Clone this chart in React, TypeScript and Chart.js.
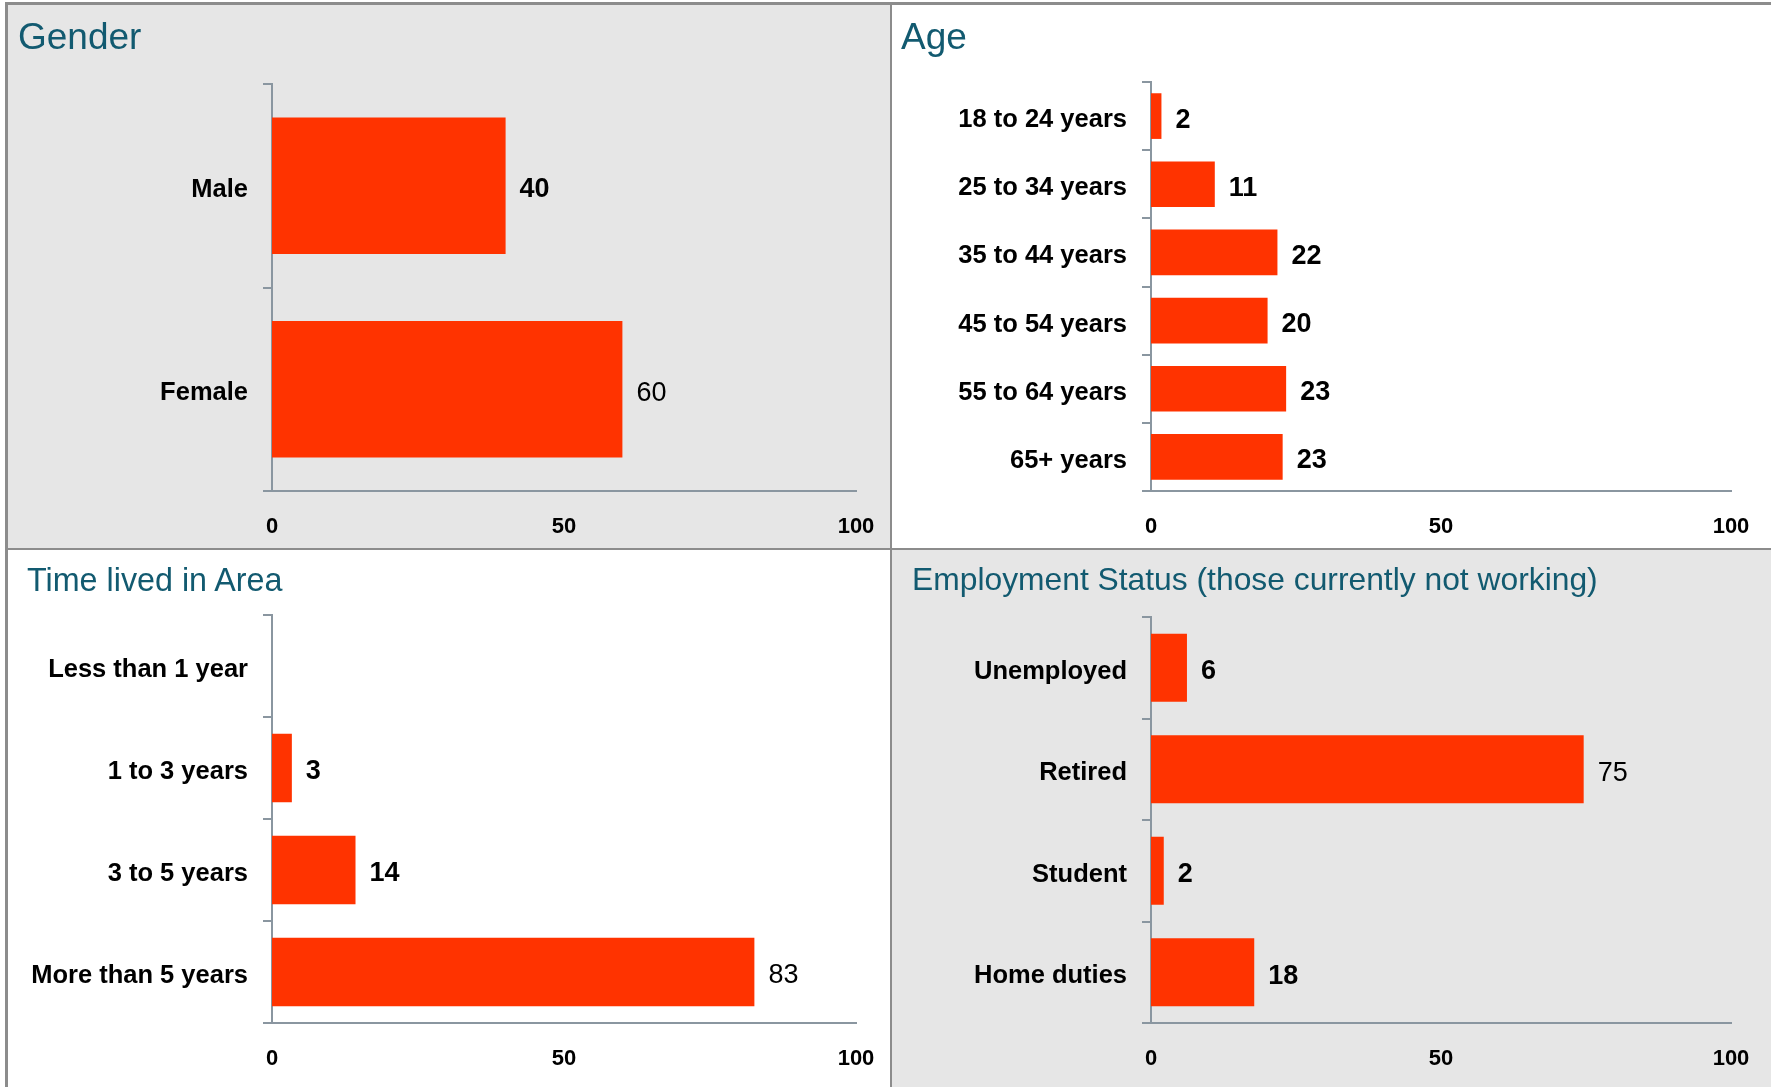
import React, { useEffect, useRef } from 'react';
import { Chart, registerables } from 'chart.js';

Chart.register(...registerables);

// ---- data ----
const genderCategories = ['Male', 'Female'];
const genderValues = [40, 60];

const ageCategories = ['18 to 24 years', '25 to 34 years', '35 to 44 years', '45 to 54 years', '55 to 64 years', '65+ years'];
const ageValues = [1.8, 11, 21.8, 20.1, 23.3, 22.7];

const timeCategories = ['Less than 1 year', '1 to 3 years', '3 to 5 years', 'More than 5 years'];
const timeValues = [0, 3.4, 14.3, 82.6];

const employmentCategories = ['Unemployed', 'Retired', 'Student', 'Home duties'];
const employmentValues = [6.2, 74.6, 2.2, 17.8];

const xTickValues = [0, 50, 100];

// ---- styles ----
const FONT = '"Liberation Sans", Arial, Helvetica, sans-serif';
const BAR = '#FF3300';
const AXIS = '#8a96a0';
const TITLE = '#125a70';
const GRAY = '#e6e6e6';
const LINE = '#8c8c8c';

type Area = { left: number; top: number; right: number; bottom: number };
type PanelSpec = {
  title: string;
  titleSize: number;
  titleLeft: number;
  titleTop: number;
  left: number;
  top: number;
  width: number;
  height: number;
  bg: string;
  area: Area;
  categories: string[];
  values: number[];
  light: number[];
};

const PANELS: PanelSpec[] = [
  {
    title: 'Gender', titleSize: 37, titleLeft: 18, titleTop: 18,
    left: 8, top: 5, width: 882, height: 543, bg: GRAY,
    area: { left: 272, top: 84, right: 856, bottom: 491 },
    categories: genderCategories, values: genderValues, light: [1],
  },
  {
    title: 'Age', titleSize: 37, titleLeft: 901, titleTop: 18,
    left: 892, top: 5, width: 879, height: 543, bg: '#ffffff',
    area: { left: 1151, top: 82, right: 1731, bottom: 491 },
    categories: ageCategories, values: ageValues, light: [],
  },
  {
    title: 'Time lived in Area', titleSize: 32.3, titleLeft: 27, titleTop: 564,
    left: 8, top: 550, width: 882, height: 537, bg: '#ffffff',
    area: { left: 272, top: 615, right: 856, bottom: 1023 },
    categories: timeCategories, values: timeValues, light: [3],
  },
  {
    title: 'Employment Status (those currently not working)', titleSize: 31.8, titleLeft: 912, titleTop: 564,
    left: 892, top: 550, width: 879, height: 537, bg: GRAY,
    area: { left: 1151, top: 617, right: 1731, bottom: 1023 },
    categories: employmentCategories, values: employmentValues, light: [1],
  },
];

function BarPanel({ spec }: { spec: PanelSpec }) {
  const ref = useRef<HTMLCanvasElement>(null);

  useEffect(() => {
    const a = spec.area;
    const padTop = a.top - spec.top;
    const yWidth = a.left - spec.left;
    const padRight = spec.left + spec.width - a.right;
    const xHeight = spec.top + spec.height - a.bottom;

    const valueLabels = {
      id: 'valueLabels',
      afterDatasetsDraw(chart: any) {
        const ctx = chart.ctx;
        const meta = chart.getDatasetMeta(0);
        ctx.save();
        ctx.fillStyle = '#000';
        ctx.textAlign = 'left';
        ctx.textBaseline = 'middle';
        meta.data.forEach((el: any, i: number) => {
          const v = spec.values[i];
          if (!v) return;
          ctx.font = `${spec.light.includes(i) ? 'normal' : 'bold'} 27px ${FONT}`;
          ctx.fillText(String(Math.round(v)), el.x + 14, el.y + 4);
        });
        ctx.restore();
      },
    };

    const chart = new Chart(ref.current as HTMLCanvasElement, {
      type: 'bar',
      data: {
        labels: spec.categories,
        datasets: [
          {
            data: spec.values,
            backgroundColor: BAR,
            borderWidth: 0,
            barPercentage: 0.67,
            categoryPercentage: 1,
          },
        ],
      },
      options: {
        indexAxis: 'y',
        animation: false,
        responsive: false,
        maintainAspectRatio: false,
        layout: { padding: { left: 0, top: padTop, right: padRight, bottom: 0 } },
        plugins: {
          legend: { display: false },
          tooltip: { enabled: false },
          title: { display: false },
        },
        scales: {
          x: {
            type: 'linear',
            min: 0,
            max: 100,
            afterBuildTicks: (s: any) => {
              s.ticks = xTickValues.map((v) => ({ value: v }));
            },
            afterFit: (s: any) => {
              s.height = xHeight;
              s.paddingLeft = 0;
              s.paddingRight = 0;
            },
            grid: { display: false, drawTicks: false },
            border: { display: true, color: AXIS, width: 2 },
            ticks: {
              padding: 23,
              color: '#000',
              maxRotation: 0,
              font: { family: FONT, size: 22, weight: 'bold' },
            },
          },
          y: {
            afterFit: (s: any) => {
              s.width = yWidth;
              s.paddingTop = 0;
              s.paddingBottom = 0;
            },
            grid: {
              offset: true,
              drawOnChartArea: false,
              drawTicks: true,
              tickLength: 9,
              color: AXIS,
              lineWidth: 2,
            },
            border: { display: true, color: AXIS, width: 2 },
            ticks: {
              autoSkip: false,
              padding: 15,
              labelOffset: 4,
              color: '#000',
              font: { family: FONT, size: 25.5, weight: 'bold' },
            },
          },
        },
      } as any,
      plugins: [valueLabels],
    });
    return () => chart.destroy();
  }, [spec]);

  return (
    <div
      style={{
        position: 'absolute',
        left: spec.left,
        top: spec.top,
        width: spec.width,
        height: spec.height,
        background: spec.bg,
      }}
    >
      <canvas
        ref={ref}
        width={spec.width}
        height={spec.height}
        style={{ position: 'absolute', left: 0, top: 0, width: spec.width, height: spec.height }}
      />
      <div
        style={{
          position: 'absolute',
          left: spec.titleLeft - spec.left,
          top: spec.titleTop - spec.top,
          fontFamily: FONT,
          fontSize: spec.titleSize,
          lineHeight: `${spec.titleSize}px`,
          color: TITLE,
          whiteSpace: 'nowrap',
        }}
      >
        {spec.title}
      </div>
    </div>
  );
}

function Line({ left, top, width, height }: { left: number; top: number; width: number; height: number }) {
  return <div style={{ position: 'absolute', left, top, width, height, background: LINE }} />;
}

export default function App() {
  return (
    <div
      style={{
        position: 'absolute',
        left: 0,
        top: 0,
        width: 1771,
        height: 1087,
        background: '#ffffff',
        overflow: 'hidden',
      }}
    >
      {PANELS.map((p) => (
        <BarPanel key={p.title} spec={p} />
      ))}
      <Line left={5} top={2} width={1766} height={3} />
      <Line left={5} top={2} width={3} height={1085} />
      <Line left={890} top={2} width={2} height={1085} />
      <Line left={5} top={548} width={1766} height={2} />
    </div>
  );
}
